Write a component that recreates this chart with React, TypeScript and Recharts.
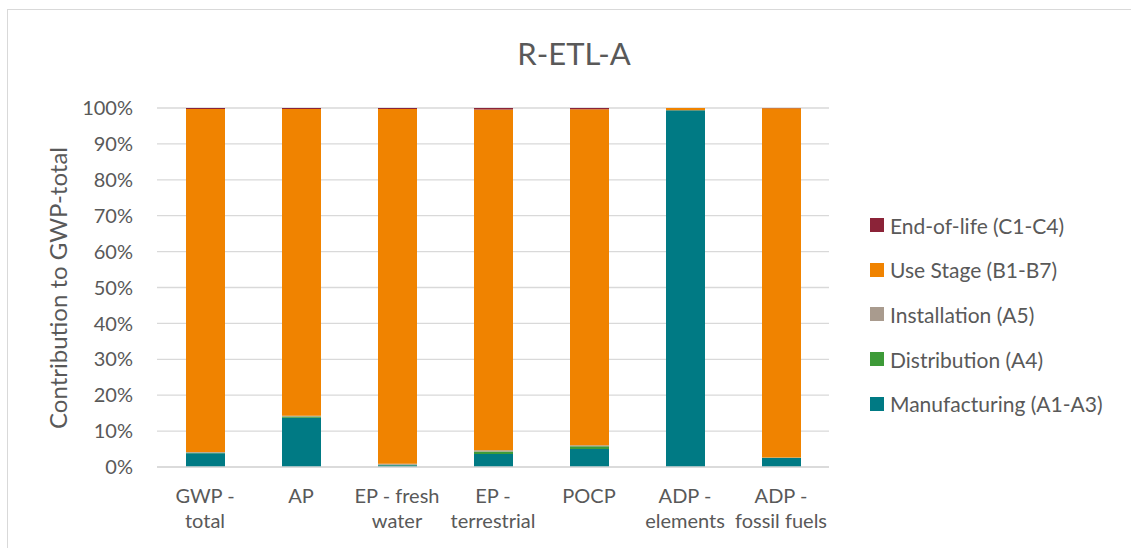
import React from 'react';
import { BarChart, Bar, XAxis, YAxis, CartesianGrid } from 'recharts';

const categories = ['GWP - total', 'AP', 'EP - fresh water', 'EP - terrestrial', 'POCP', 'ADP - elements', 'ADP - fossil fuels'];
const categoryLines: string[][] = [
  ['GWP -', 'total'],
  ['AP'],
  ['EP - fresh', 'water'],
  ['EP -', 'terrestrial'],
  ['POCP'],
  ['ADP -', 'elements'],
  ['ADP -', 'fossil fuels'],
];
const manufacturing = [3.8, 13.7, 0.5, 3.6, 5.0, 99.35, 2.5];
const distribution = [0.15, 0.4, 0.1, 0.75, 0.75, 0.02, 0.05];
const installation = [0.2, 0.2, 0.3, 0.35, 0.3, 0.02, 0.1];
const useStage = [95.55, 85.4, 98.8, 94.9, 93.6, 0.59, 97.25];
const endOfLife = [0.3, 0.3, 0.3, 0.4, 0.35, 0.02, 0.1];
const yTicks = [0, 10, 20, 30, 40, 50, 60, 70, 80, 90, 100];

const series = [
  { key: 'manufacturing', name: 'Manufacturing (A1-A3)', color: '#007A84' },
  { key: 'distribution', name: 'Distribution (A4)', color: '#3D9A38' },
  { key: 'installation', name: 'Installation (A5)', color: '#A99B8E' },
  { key: 'useStage', name: 'Use Stage (B1-B7)', color: '#F08300' },
  { key: 'endOfLife', name: 'End-of-life (C1-C4)', color: '#8B2338' },
];

const data = categories.map((c, i) => ({
  name: c,
  manufacturing: manufacturing[i],
  distribution: distribution[i],
  installation: installation[i],
  useStage: useStage[i],
  endOfLife: endOfLife[i],
}));

const FONT = 'Lato, "Open Sans", sans-serif';
const TEXT = '#595959';

const XTick = (props: any) => {
  const { x, y, payload } = props;
  const idx = categories.indexOf(payload.value);
  const lines = categoryLines[idx] || [payload.value];
  return (
    <text x={x} y={y} textAnchor="middle" fill={TEXT} fontSize={20} fontFamily={FONT}>
      {lines.map((l, i) => (
        <tspan key={i} x={x} dy={i === 0 ? 28 : 25}>{l}</tspan>
      ))}
    </text>
  );
};

export default function App() {
  const legendItems = [...series].reverse();
  return (
    <div style={{ position: 'absolute', left: 0, top: 0, width: 1131, height: 548, overflow: 'hidden', background: '#fff', fontFamily: FONT }}>
      <div style={{ position: 'absolute', left: 7, top: 9, width: 1200, height: 600, border: '1px solid #D9D9D9' }} />
      <div style={{ position: 'absolute', left: 0, top: 0 }}>
        <BarChart width={1131} height={548} data={data} margin={{ top: 108, right: 302, bottom: 0, left: 0 }} barSize={39}>
          <CartesianGrid vertical={false} stroke="#D9D9D9" strokeWidth={1.3} />
          <XAxis dataKey="name" height={81} axisLine={{ stroke: '#D9D9D9', strokeWidth: 1.3 }} tickLine={false} tick={<XTick />} interval={0} />
          <YAxis width={157} domain={[0, 100]} ticks={yTicks} allowDataOverflow axisLine={false} tickLine={false} tickSize={0} tickMargin={24}
            tickFormatter={(v: number) => `${v}%`} tick={{ fill: TEXT, fontSize: 20, fontFamily: FONT }} />
          {series.map((s) => (
            <Bar key={s.key} dataKey={s.key} name={s.name} stackId="a" fill={s.color} isAnimationActive={false} />
          ))}
        </BarChart>
      </div>
      <div style={{ position: 'absolute', left: 0, width: 1148, top: 34, textAlign: 'center', fontSize: 31, color: TEXT }}>R-ETL-A</div>
      <div style={{ position: 'absolute', left: 57, top: 288, transform: 'translate(-50%, -50%) rotate(-90deg)', whiteSpace: 'nowrap', fontSize: 24, color: TEXT }}>
        Contribution to GWP-total
      </div>
      {legendItems.map((s, i) => (
        <div key={s.key} style={{ position: 'absolute', left: 870, top: 225 + i * 44.7 - 14, height: 28, display: 'flex', alignItems: 'center', whiteSpace: 'nowrap' }}>
          <span style={{ display: 'inline-block', width: 14, height: 14, background: s.color, marginRight: 6 }} />
          <span style={{ fontSize: 21, color: TEXT }}>{s.name}</span>
        </div>
      ))}
    </div>
  );
}
